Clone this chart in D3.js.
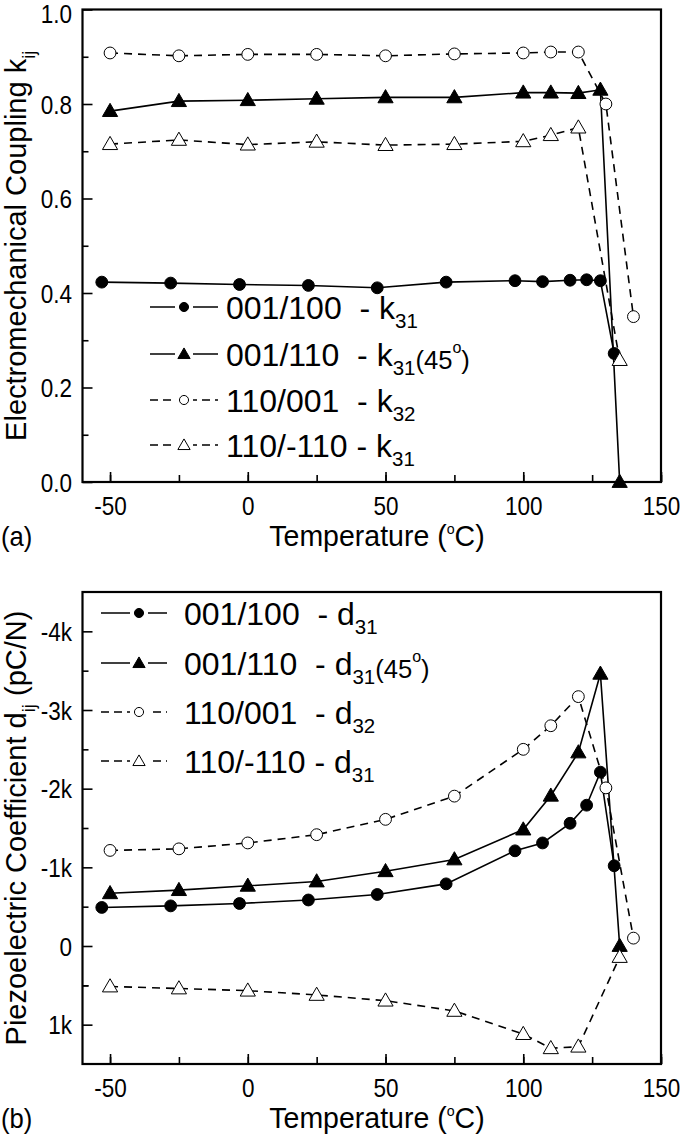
<!DOCTYPE html>
<html><head><meta charset="utf-8">
<script src="https://cdn.jsdelivr.net/npm/d3@7"></script>
<style>
html,body{margin:0;padding:0;background:#fff;}
svg{display:block;font-family:"Liberation Sans",Arial,sans-serif;}
text{white-space:pre;}
</style></head><body>
<svg id="chart" width="680" height="1135"></svg>
<script>
// ---------- data ----------
const xTicks = [-50, 0, 50, 100, 150];
const kTicks = [0.0, 0.2, 0.4, 0.6, 0.8, 1.0];
const dTicks = [-4000, -3000, -2000, -1000, 0, 1000];

// panel (a): electromechanical coupling
const kT_fc = [-53, -28, -3, 22, 47, 72, 97, 107, 117, 123, 128, 133];
const kV_fc = [0.423, 0.421, 0.418, 0.416, 0.411, 0.423, 0.426, 0.424, 0.427, 0.428, 0.426, 0.272];
const kT_ft = [-50, -25, 0, 25, 50, 75, 100, 110, 120, 128, 135];
const kV_ft = [0.785, 0.806, 0.808, 0.811, 0.814, 0.814, 0.824, 0.824, 0.823, 0.830, 0.0];
const kT_oc = [-50, -25, 0, 25, 50, 75, 100, 110, 120, 130, 140];
const kV_oc = [0.908, 0.902, 0.905, 0.905, 0.902, 0.906, 0.908, 0.910, 0.910, 0.800, 0.350];
const kT_ot = [-50, -25, 0, 25, 50, 75, 100, 110, 120, 135];
const kV_ot = [0.715, 0.724, 0.714, 0.720, 0.713, 0.715, 0.721, 0.734, 0.750, 0.258];

// panel (b): piezoelectric coefficient (pC/N)
const dT_fc = [-53, -28, -3, 22, 47, 72, 97, 107, 117, 123, 128, 133];
const dV_fc = [-490, -510, -540, -585, -655, -790, -1210, -1310, -1560, -1790, -2210, -1020];
const dT_ft = [-50, -25, 0, 25, 50, 75, 100, 110, 120, 128, 135];
const dV_ft = [-670, -710, -765, -820, -950, -1100, -1480, -1910, -2460, -3460, 0];
const dT_oc = [-50, -25, 0, 25, 50, 75, 100, 110, 120, 130, 140];
const dV_oc = [-1215, -1235, -1310, -1415, -1610, -1905, -2500, -2800, -3170, -2010, -100];
const dT_ot = [-50, -25, 0, 25, 50, 75, 100, 110, 120, 135];
const dV_ot = [515, 540, 568, 622, 695, 825, 1120, 1300, 1280, 140];

const kLegend = [
  [{t:"001/100  - k"},{t:"31",sub:1}],
  [{t:"001/110  - k"},{t:"31",sub:1},{t:"(45",small:1},{t:"o",sup:1},{t:")",small:1}],
  [{t:"110/001  - k"},{t:"32",sub:1}],
  [{t:"110/-110 - k"},{t:"31",sub:1}]
];
const dLegend = [
  [{t:"001/100  - d"},{t:"31",sub:1}],
  [{t:"001/110  - d"},{t:"31",sub:1},{t:"(45",small:1},{t:"o",sup:1},{t:")",small:1}],
  [{t:"110/001  - d"},{t:"32",sub:1}],
  [{t:"110/-110 - d"},{t:"31",sub:1}]
];
const styles = [
  {marker:"circle", fill:"#000", dash:null},
  {marker:"triangle", fill:"#000", dash:null},
  {marker:"circle", fill:"#fff", dash:"8,6"},
  {marker:"triangle", fill:"#fff", dash:"8,6"}
];

// ---------- drawing ----------
const svg = d3.select("#chart");
const L = 82.5, R = 661;
const TICK_FS = 25, TICK_SX = 0.9, TITLE_FS = 30, LEG_FS = 32;

function rich(textSel, segs, size) {
  let cur = 0;
  segs.forEach(s => {
    const off = s.sub ? size*0.30 : s.sup ? -size*0.40 : s.small ? size*0.10 : 0;
    const fs = s.sub ? size*0.64 : s.sup ? size*0.5 : s.small ? size*0.8 : size;
    textSel.append("tspan").attr("dy", off - cur).attr("font-size", fs).text(s.t);
    cur = off;
  });
}

// place rich text: anchor handled by measuring
function place(parent, segs, size, o) {
  const g = parent.append("g");
  const t = g.append("text").attr("x", 0).attr("y", 0).attr("font-size", size).attr("fill", "#000");
  rich(t, segs, size);
  const w = t.node().getBBox().width;
  const off = o.anchor === "middle" ? -w / 2 : o.anchor === "end" ? -w : 0;
  g.attr("transform", `translate(${o.x},${o.y}) rotate(${o.rot || 0}) scale(${o.sx || 1},1) translate(${off},0)`);
  return g;
}

function markerPath(type, size) {
  return d3.symbol().type(type === "circle" ? d3.symbolCircle : d3.symbolTriangle).size(size)();
}

function panel(cfg) {
  const g = svg.append("g");
  const x = d3.scaleLinear().domain([-60, 150]).range([L, R]);
  const y = d3.scaleLinear().domain(cfg.ydom).range([cfg.bottom, cfg.top]);

  // axes ticks (inward)
  const xMinor = d3.range(-50, 151, 25);
  g.append("g").attr("transform", `translate(0,${cfg.bottom})`)
    .call(d3.axisBottom(x).tickValues(xMinor).tickSizeInner(-7).tickSizeOuter(0).tickFormat(""))
    .call(a => a.select(".domain").remove())
    .call(a => a.selectAll("line").attr("stroke-width", 1.6));
  g.append("g").attr("transform", `translate(0,${cfg.bottom})`)
    .call(d3.axisBottom(x).tickValues(xTicks).tickSizeInner(-10).tickSizeOuter(0).tickPadding(15).tickFormat(d => String(d)))
    .call(a => a.select(".domain").remove())
    .call(a => a.selectAll("line").attr("stroke-width", 1.6))
    .call(a => a.selectAll("text").attr("font-size", TICK_FS).attr("font-family", "Liberation Sans, Arial")
      .attr("fill", "#000").attr("transform", `scale(${TICK_SX},1)`));

  g.append("g").attr("transform", `translate(${L},0)`)
    .call(d3.axisLeft(y).tickValues(cfg.yMinor).tickSizeInner(-6).tickSizeOuter(0).tickFormat(""))
    .call(a => a.select(".domain").remove())
    .call(a => a.selectAll("line").attr("stroke-width", 1.6));
  g.append("g").attr("transform", `translate(${L},0)`)
    .call(d3.axisLeft(y).tickValues(cfg.yTicks).tickSizeInner(-10).tickSizeOuter(0).tickFormat(cfg.fmt))
    .call(a => a.select(".domain").remove())
    .call(a => a.selectAll("line").attr("stroke-width", 1.6))
    .call(a => a.selectAll("text").attr("font-size", TICK_FS).attr("font-family", "Liberation Sans, Arial")
      .attr("fill", "#000").attr("dy", d => (y(d) - cfg.top < 5 ? "0.52em" : "0.36em"))
      .attr("x", -10.5 / TICK_SX).attr("transform", `scale(${TICK_SX},1)`));

  // frame
  g.append("rect").attr("x", L).attr("y", cfg.top).attr("width", R - L).attr("height", cfg.bottom - cfg.top)
    .attr("fill", "none").attr("stroke", "#000").attr("stroke-width", 2.2);

  // series lines
  cfg.series.forEach((s, i) => {
    const st = styles[i];
    const pts = s.t.map((t, j) => [t, s.v[j]]);
    g.append("path").datum(pts)
      .attr("d", d3.line().x(d => x(d[0])).y(d => y(d[1])))
      .attr("fill", "none").attr("stroke", "#000").attr("stroke-width", 1.6)
      .attr("stroke-dasharray", st.dash);
  });
  // markers
  cfg.series.forEach((s, i) => {
    const st = styles[i];
    const pts = s.t.map((t, j) => [t, s.v[j]]);
    g.selectAll(null).data(pts).enter().append("path")
      .attr("transform", d => `translate(${x(d[0])},${y(d[1]) + (st.marker === "triangle" ? 1 : 0)})`)
      .attr("d", markerPath(st.marker, st.marker === "circle" ? 110 : 100))
      .attr("fill", st.fill).attr("stroke", "#000").attr("stroke-width", 1);
  });

  // legend
  cfg.legend.forEach((segs, i) => {
    const st = styles[i];
    const ly = cfg.legY[i];
    const lg = g.append("g");
    lg.append("line").attr("x1", cfg.legX[0]).attr("x2", cfg.legX[2]).attr("y1", ly).attr("y2", ly)
      .attr("stroke", "#000").attr("stroke-width", 1.5).attr("stroke-dasharray", st.dash ? "8,5" : null);
    lg.append("rect").attr("x", cfg.legX[1] - 9).attr("y", ly - 8).attr("width", 18).attr("height", 16).attr("fill", "#fff");
    lg.append("path").attr("transform", `translate(${cfg.legX[1]},${ly + (st.marker === "triangle" ? 1 : 0)})`)
      .attr("d", markerPath(st.marker, 65))
      .attr("fill", st.fill).attr("stroke", "#000").attr("stroke-width", 1);
    place(lg, segs, LEG_FS, {x: cfg.legX[3], y: ly + LEG_FS * 0.36, anchor: "start"});
  });

  // x title + panel tag
  place(g, [{t:"Temperature ("},{t:"o",sup:1},{t:"C)"}], TITLE_FS,
        {x: 377, y: cfg.bottom + 64, anchor: "middle", sx: 0.95});
  place(g, [{t:cfg.tag}], TITLE_FS - 3, {x: 1, y: cfg.bottom + 64, anchor: "start", sx: 0.95});

  // y title (rotated)
  place(g, cfg.ytitle, 29, {x: 26, y: (cfg.top + cfg.bottom) / 2, anchor: "middle", rot: -90});
}

panel({
  top: 9.5, bottom: 482, ydom: [0, 1],
  yTicks: kTicks, yMinor: d3.range(0.1, 1.0, 0.2),
  fmt: d3.format(".1f"),
  series: [{t:kT_fc, v:kV_fc}, {t:kT_ft, v:kV_ft}, {t:kT_oc, v:kV_oc}, {t:kT_ot, v:kV_ot}],
  legend: kLegend, legY: [307, 354, 400, 445], legX: [150, 184, 218, 226],
  ytitle: [{t:"Electromechanical Coupling k"},{t:"ij",sub:1}], tag: "(a)"
});
panel({
  top: 592, bottom: 1064, ydom: [1500, -4500],
  yTicks: dTicks, yMinor: d3.range(-3500, 1000, 1000).concat([500]),
  fmt: v => v === 0 ? "0" : (v / 1000) + "k",
  series: [{t:dT_fc, v:dV_fc}, {t:dT_ft, v:dV_ft}, {t:dT_oc, v:dV_oc}, {t:dT_ot, v:dV_ot}],
  legend: dLegend, legY: [613, 663, 712, 761], legX: [101, 139, 167, 184],
  ytitle: [{t:"Piezoelectric Coefficient d"},{t:"ij",sub:1},{t:" (pC/N)"}], tag: "(b)"
});
</script>
</body></html>
